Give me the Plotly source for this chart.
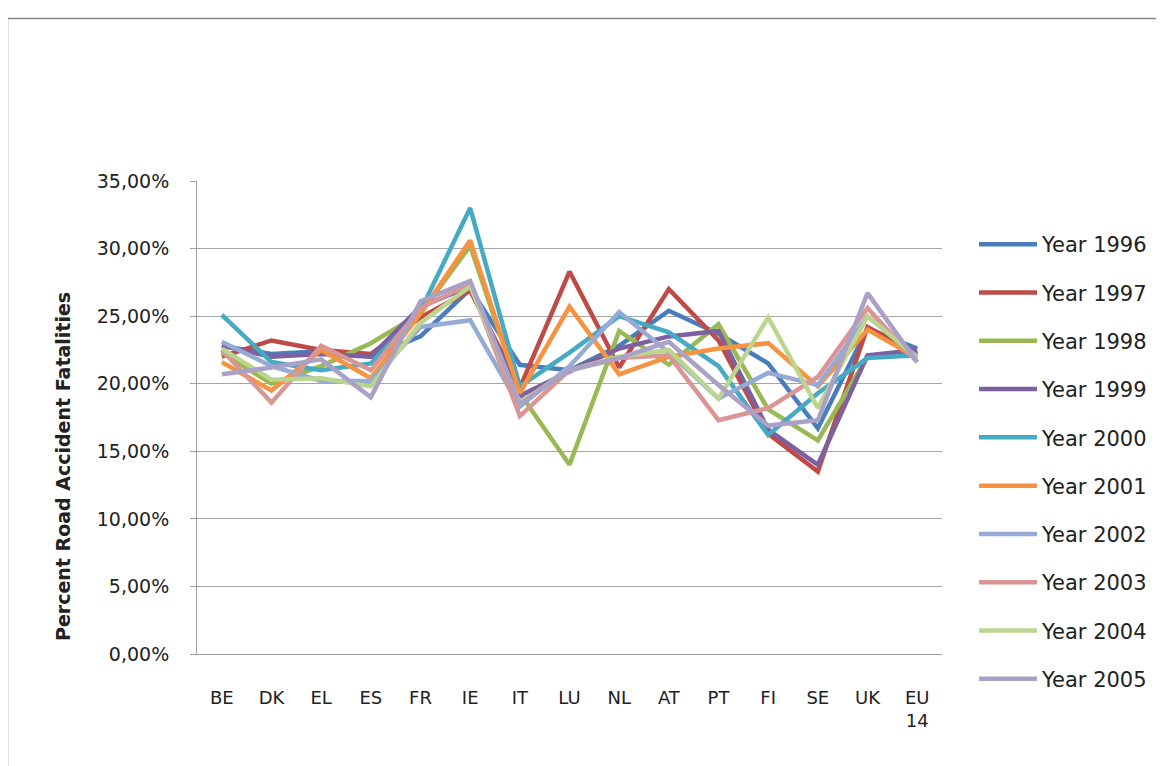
import plotly.graph_objects as go

categories = ["BE", "DK", "EL", "ES", "FR", "IE", "IT", "LU", "NL", "AT", "PT", "FI", "SE", "UK", "EU<br>14"]

year_1996 = [22.8, 22.2, 22.4, 22.0, 23.5, 27.0, 21.4, 21.0, 22.8, 25.4, 23.7, 21.5, 16.7, 24.1, 22.6]
year_1997 = [22.0, 23.2, 22.5, 22.2, 24.9, 26.9, 19.7, 28.3, 21.2, 27.0, 23.2, 16.3, 13.5, 24.2, 22.2]
year_1998 = [22.3, 20.0, 21.3, 23.0, 25.2, 30.2, 19.3, 14.0, 23.9, 21.4, 24.4, 18.1, 15.8, 22.0, 22.3]
year_1999 = [22.8, 22.0, 22.2, 22.0, 25.7, 27.2, 19.1, 20.9, 22.6, 23.5, 23.9, 16.6, 14.0, 22.1, 22.5]
year_2000 = [25.1, 21.6, 21.0, 21.5, 25.4, 33.0, 19.8, 22.3, 25.0, 23.8, 21.3, 16.2, 19.3, 21.9, 22.1]
year_2001 = [21.6, 19.5, 22.5, 20.4, 25.2, 30.6, 19.3, 25.7, 20.7, 22.0, 22.6, 23.0, 19.8, 24.0, 21.9]
year_2002 = [23.1, 21.3, 20.2, 20.2, 24.2, 24.7, 18.3, 21.3, 25.3, 22.3, 18.9, 20.8, 19.9, 25.0, 22.0]
year_2003 = [22.5, 18.6, 22.8, 21.0, 25.6, 27.4, 17.6, 21.0, 21.9, 22.1, 17.3, 18.2, 20.5, 25.6, 21.6]
year_2004 = [22.6, 20.3, 20.4, 19.8, 24.5, 27.2, 18.6, 21.0, 22.0, 22.5, 18.9, 24.9, 18.2, 25.0, 21.9]
year_2005 = [20.7, 21.2, 21.8, 19.0, 26.1, 27.6, 18.5, 21.0, 21.9, 23.1, 19.9, 16.9, 17.3, 26.7, 21.6]

series_names = ["Year 1996", "Year 1997", "Year 1998", "Year 1999", "Year 2000",
                "Year 2001", "Year 2002", "Year 2003", "Year 2004", "Year 2005"]
series_values = [year_1996, year_1997, year_1998, year_1999, year_2000,
                 year_2001, year_2002, year_2003, year_2004, year_2005]
series_colors = ["#4A7EBB", "#BE4B48", "#98B954", "#7D60A0", "#46AAC5",
                 "#F69240", "#95ABD6", "#DA9694", "#BBD58E", "#ABA0C6"]

y_tick_values = [0, 5, 10, 15, 20, 25, 30, 35]
y_tick_labels = ["0,00%", "5,00%", "10,00%", "15,00%", "20,00%", "25,00%", "30,00%", "35,00%"]

# the page has an 8px body margin, so the figure is drawn 8px smaller and
# all design pixel positions below are given in window coordinates
OFF = 8
W, H = 1164 - OFF, 766 - OFF
L, R, T, B = 197 - OFF, 942 - OFF, 181 - OFF, 654 - OFF

def px_x(p):
    return (p - OFF - L) / (R - L)

def px_y(p):
    return (B - (p - OFF)) / (B - T)

fig = go.Figure()
for i, (name, vals, col) in enumerate(zip(series_names, series_values, series_colors)):
    fig.add_trace(go.Scatter(
        x=categories, y=vals, name=name, mode="lines",
        line=dict(color=col, width=4.5),
        legendgroup=f"g{i}",
    ))

font_family = "DejaVu Sans"
text_color = "#222222"

fig.update_layout(
    width=W, height=H,
    margin=dict(l=L, r=W - R, t=T, b=H - B, autoexpand=False),
    paper_bgcolor="white", plot_bgcolor="white",
    font=dict(family=font_family, size=18, color=text_color),
    showlegend=True,
    legend=dict(
        x=px_x(974), y=px_y(224), xanchor="left", yanchor="top",
        font=dict(family=font_family, size=21, color=text_color),
        tracegroupgap=18, itemwidth=58, maxheight=700,
        bgcolor="rgba(0,0,0,0)",
    ),
    xaxis=dict(
        type="category", showgrid=False, showline=True, linecolor="#A0A0A0", linewidth=1,
        ticks="", tickfont=dict(size=18, family=font_family, color=text_color),
        ticklabelstandoff=27, range=[-0.5, len(categories) - 0.5], fixedrange=True,
    ),
    yaxis=dict(
        range=[0, 35], tickvals=y_tick_values, ticktext=y_tick_labels,
        showgrid=True, gridcolor="#A6A6A6", gridwidth=1,
        showline=True, linecolor="#A0A0A0", linewidth=1,
        ticks="outside", ticklen=6, tickcolor="#A0A0A0",
        tickfont=dict(size=19, family=font_family, color=text_color),
        ticklabelstandoff=17, zeroline=False,
    ),
    annotations=[dict(
        text="<b>Percent Road Accident Fatalities</b>", textangle=-90,
        xref="paper", yref="paper", x=px_x(63), y=px_y(467),
        xanchor="center", yanchor="middle", showarrow=False,
        font=dict(family=font_family, size=19, color=text_color),
    )],
    shapes=[dict(
        type="rect", xref="paper", yref="paper", layer="above",
        x0=px_x(7.5), x1=px_x(1180), y0=px_y(18.5), y1=px_y(800),
        line=dict(color="#878787", width=1.5), fillcolor="rgba(0,0,0,0)",
    )],
)

fig.write_html("out.html")
